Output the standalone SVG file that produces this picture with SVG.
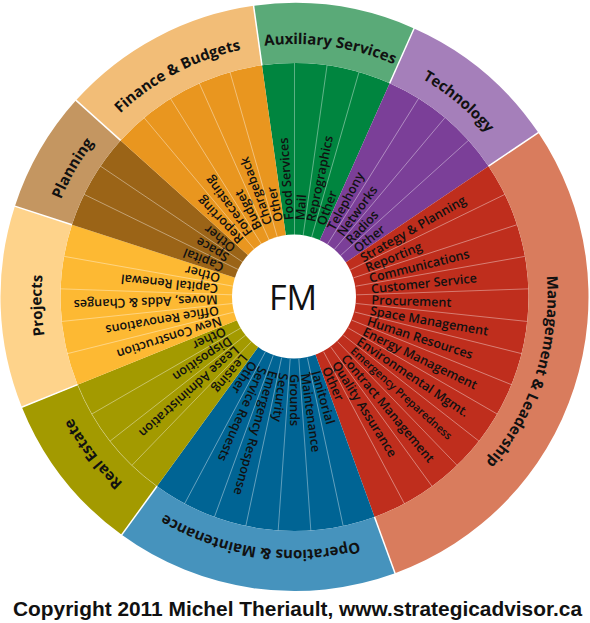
<svg xmlns="http://www.w3.org/2000/svg" width="590" height="623" viewBox="0 0 590 623">
<style>
.lbl{font-family:"Open Sans","Noto Sans",sans-serif;font-size:12.6px;font-weight:600;fill:#111}
.sm{font-size:10.8px}
.cat{font-family:"Open Sans","Noto Sans",sans-serif;font-size:15px;font-weight:bold;fill:#111}
.div{stroke:#fff;stroke-opacity:0.45;stroke-width:0.8}
.sep{stroke:#fff;stroke-width:1.5}
</style>
<defs>
<path id="ring" d="M294.5 44 A253 253 0 0 1 294.5 550 A253 253 0 0 1 294.5 44 A253 253 0 0 1 294.5 550 A253 253 0 0 1 294.5 44" fill="none"/>
</defs>
<rect width="590" height="623" fill="#fff"/>

<g id="auxiliary-services">
<path d="M294.5 297 L261.93 65.28 A234 234 0 0 1 389.68 83.23 Z" fill="#00853f"/>
<path d="M261.93 65.28 L253.58 5.86 A294 294 0 0 1 414.08 28.42 L389.68 83.23 A234 234 0 0 0 261.93 65.28 Z" fill="#5aaa78"/>
<text class="cat"><textPath href="#ring" startOffset="1624.98" text-anchor="middle">Auxiliary Services</textPath></text>
<g transform="translate(294.5 297)">
<text class="lbl" transform="rotate(-94)" x="77" y="4.5">Food Services</text>
<text class="lbl" transform="rotate(-86)" x="77" y="4.5">Mail</text>
<text class="lbl" transform="rotate(-78)" x="77" y="4.5">Reprographics</text>
<text class="lbl" transform="rotate(-70)" x="77" y="4.5">Other</text>
</g>
</g>

<g id="technology">
<path d="M294.5 297 L389.68 83.23 A234 234 0 0 1 488.50 166.15 Z" fill="#7b3f98"/>
<path d="M389.68 83.23 L414.08 28.42 A294 294 0 0 1 538.24 132.60 L488.50 166.15 A234 234 0 0 0 389.68 83.23 Z" fill="#a57fba"/>
<text class="cat"><textPath href="#ring" startOffset="176.63" text-anchor="middle">Technology</textPath></text>
<g transform="translate(294.5 297)">
<text class="lbl" transform="rotate(-62)" x="77" y="4.5">Telephony</text>
<text class="lbl" transform="rotate(-54)" x="77" y="4.5">Networks</text>
<text class="lbl" transform="rotate(-46)" x="77" y="4.5">Radios</text>
<text class="lbl" transform="rotate(-38)" x="77" y="4.5">Other</text>
</g>
</g>

<g id="management-leadership">
<path d="M294.5 297 L488.50 166.15 A234 234 0 0 1 374.53 516.89 Z" fill="#bf2e1d"/>
<path d="M488.50 166.15 L538.24 132.60 A294 294 0 0 1 395.05 573.27 L374.53 516.89 A234 234 0 0 0 488.50 166.15 Z" fill="#d97c5d"/>
<text class="cat"><textPath href="#ring" startOffset="476.90" text-anchor="middle">Management &amp; Leadership</textPath></text>
<g transform="translate(294.5 297)">
<text class="lbl" transform="rotate(-30)" x="77" y="4.5">Strategy &amp; Planning</text>
<text class="lbl" transform="rotate(-22)" x="77" y="4.5">Reporting</text>
<text class="lbl" transform="rotate(-14)" x="77" y="4.5">Communications</text>
<text class="lbl" transform="rotate(-6)" x="77" y="4.5">Customer Service</text>
<text class="lbl" transform="rotate(2)" x="77" y="4.5">Procurement</text>
<text class="lbl" transform="rotate(10)" x="77" y="4.5">Space Management</text>
<text class="lbl" transform="rotate(18)" x="77" y="4.5">Human Resources</text>
<text class="lbl" transform="rotate(26)" x="77" y="4.5">Energy Management</text>
<text class="lbl" transform="rotate(34)" x="77" y="4.5">Environmental Mgmt.</text>
<text class="lbl sm" transform="rotate(42)" x="78" y="3.9">Emergency Preparedness</text>
<text class="lbl" transform="rotate(50)" x="77" y="4.5">Contract Management</text>
<text class="lbl" transform="rotate(58)" x="77" y="4.5">Quality Assurance</text>
<text class="lbl" transform="rotate(66)" x="77" y="4.5">Other</text>
</g>
</g>

<g id="operations-maintenance">
<path d="M294.5 297 L374.53 516.89 A234 234 0 0 1 156.96 486.31 Z" fill="#006494"/>
<path d="M374.53 516.89 L395.05 573.27 A294 294 0 0 1 121.69 534.85 L156.96 486.31 A234 234 0 0 0 374.53 516.89 Z" fill="#4693bd"/>
<text class="cat"><textPath href="#ring" startOffset="830.15" text-anchor="middle">Operations &amp; Maintenance</textPath></text>
<g transform="translate(294.5 297)">
<text class="lbl" transform="rotate(74)" x="77" y="4.5">Janitorial</text>
<text class="lbl" transform="rotate(82)" x="77" y="4.5">Maintenance</text>
<text class="lbl" transform="rotate(90)" x="77" y="4.5">Grounds</text>
<text class="lbl" transform="rotate(98)" x="77" y="4.5">Security</text>
<text class="lbl" transform="rotate(106)" x="77" y="4.5">Emergency Response</text>
<text class="lbl" transform="rotate(114)" x="77" y="4.5">Service Requests</text>
<text class="lbl" transform="rotate(122)" x="77" y="4.5">Other</text>
</g>
</g>

<g id="real-estate">
<path d="M294.5 297 L156.96 486.31 A234 234 0 0 1 77.54 384.66 Z" fill="#a39a00"/>
<path d="M156.96 486.31 L121.69 534.85 A294 294 0 0 1 21.91 407.13 L77.54 384.66 A234 234 0 0 0 156.96 486.31 Z" fill="#a39a00"/>
<path d="M156.96 486.31 A234 234 0 0 1 77.54 384.66" fill="none" stroke="#fff" stroke-opacity="0.35" stroke-width="0.8"/>
<text class="cat"><textPath href="#ring" startOffset="1024.44" text-anchor="middle">Real Estate</textPath></text>
<g transform="translate(294.5 297)">
<text class="lbl" transform="rotate(130)" x="77" y="4.5">Leasing</text>
<text class="lbl" transform="rotate(138)" x="77" y="4.5">Lease Administration</text>
<text class="lbl" transform="rotate(146)" x="77" y="4.5">Disposition</text>
<text class="lbl" transform="rotate(154)" x="77" y="4.5">Other</text>
</g>
</g>

<g id="projects">
<path d="M294.5 297 L77.54 384.66 A234 234 0 0 1 71.95 224.69 Z" fill="#fdb933"/>
<path d="M77.54 384.66 L21.91 407.13 A294 294 0 0 1 14.89 206.15 L71.95 224.69 A234 234 0 0 0 77.54 384.66 Z" fill="#fed38b"/>
<text class="cat"><textPath href="#ring" startOffset="1183.41" text-anchor="middle">Projects</textPath></text>
<g transform="translate(294.5 297)">
<text class="lbl" transform="rotate(162)" x="77" y="4.5">New Construction</text>
<text class="lbl" transform="rotate(170)" x="77" y="4.5">Office Renovations</text>
<text class="lbl" transform="rotate(178)" x="77" y="4.5">Moves, Adds &amp; Changes</text>
<text class="lbl" transform="rotate(186)" x="77" y="4.5">Capital Renewal</text>
<text class="lbl" transform="rotate(194)" x="77" y="4.5">Other</text>
</g>
</g>

<g id="planning">
<path d="M294.5 297 L71.95 224.69 A234 234 0 0 1 120.60 140.42 Z" fill="#9b6417"/>
<path d="M71.95 224.69 L14.89 206.15 A294 294 0 0 1 76.02 100.28 L120.60 140.42 A234 234 0 0 0 71.95 224.69 Z" fill="#c49661"/>
<text class="cat"><textPath href="#ring" startOffset="1324.71" text-anchor="middle">Planning</textPath></text>
<g transform="translate(294.5 297)">
<text class="lbl" transform="rotate(202)" x="77" y="4.5">Capital</text>
<text class="lbl" transform="rotate(210)" x="77" y="4.5">Space</text>
<text class="lbl" transform="rotate(218)" x="77" y="4.5">Other</text>
</g>
</g>

<g id="finance-budgets">
<path d="M294.5 297 L120.60 140.42 A234 234 0 0 1 261.93 65.28 Z" fill="#e9961f"/>
<path d="M120.60 140.42 L76.02 100.28 A294 294 0 0 1 253.58 5.86 L261.93 65.28 A234 234 0 0 0 120.60 140.42 Z" fill="#f2bd77"/>
<text class="cat"><textPath href="#ring" startOffset="1466.01" text-anchor="middle">Finance &amp; Budgets</textPath></text>
<g transform="translate(294.5 297)">
<text class="lbl" transform="rotate(226)" x="77" y="4.5">Reporting</text>
<text class="lbl" transform="rotate(234)" x="77" y="4.5">Forecasting</text>
<text class="lbl" transform="rotate(242)" x="77" y="4.5">Budget</text>
<text class="lbl" transform="rotate(250)" x="77" y="4.5">Chargeback</text>
<text class="lbl" transform="rotate(258)" x="77" y="4.5">Other</text>
</g>
</g>

<g id="dividers" transform="translate(294.5 297)">
<g class="div">
<line x1="0" y1="-62" x2="0" y2="-234" transform="rotate(0)"/>
<line x1="0" y1="-62" x2="0" y2="-234" transform="rotate(8)"/>
<line x1="0" y1="-62" x2="0" y2="-234" transform="rotate(16)"/>
<line x1="0" y1="-62" x2="0" y2="-234" transform="rotate(32)"/>
<line x1="0" y1="-62" x2="0" y2="-234" transform="rotate(40)"/>
<line x1="0" y1="-62" x2="0" y2="-234" transform="rotate(48)"/>
<line x1="0" y1="-62" x2="0" y2="-234" transform="rotate(64)"/>
<line x1="0" y1="-62" x2="0" y2="-234" transform="rotate(72)"/>
<line x1="0" y1="-62" x2="0" y2="-234" transform="rotate(80)"/>
<line x1="0" y1="-62" x2="0" y2="-234" transform="rotate(88)"/>
<line x1="0" y1="-62" x2="0" y2="-234" transform="rotate(96)"/>
<line x1="0" y1="-62" x2="0" y2="-234" transform="rotate(104)"/>
<line x1="0" y1="-62" x2="0" y2="-234" transform="rotate(112)"/>
<line x1="0" y1="-62" x2="0" y2="-234" transform="rotate(120)"/>
<line x1="0" y1="-62" x2="0" y2="-234" transform="rotate(128)"/>
<line x1="0" y1="-62" x2="0" y2="-234" transform="rotate(136)"/>
<line x1="0" y1="-62" x2="0" y2="-234" transform="rotate(144)"/>
<line x1="0" y1="-62" x2="0" y2="-234" transform="rotate(152)"/>
<line x1="0" y1="-62" x2="0" y2="-234" transform="rotate(168)"/>
<line x1="0" y1="-62" x2="0" y2="-234" transform="rotate(176)"/>
<line x1="0" y1="-62" x2="0" y2="-234" transform="rotate(184)"/>
<line x1="0" y1="-62" x2="0" y2="-234" transform="rotate(192)"/>
<line x1="0" y1="-62" x2="0" y2="-234" transform="rotate(200)"/>
<line x1="0" y1="-62" x2="0" y2="-234" transform="rotate(208)"/>
<line x1="0" y1="-62" x2="0" y2="-234" transform="rotate(224)"/>
<line x1="0" y1="-62" x2="0" y2="-234" transform="rotate(232)"/>
<line x1="0" y1="-62" x2="0" y2="-234" transform="rotate(240)"/>
<line x1="0" y1="-62" x2="0" y2="-234" transform="rotate(256)"/>
<line x1="0" y1="-62" x2="0" y2="-234" transform="rotate(264)"/>
<line x1="0" y1="-62" x2="0" y2="-234" transform="rotate(272)"/>
<line x1="0" y1="-62" x2="0" y2="-234" transform="rotate(280)"/>
<line x1="0" y1="-62" x2="0" y2="-234" transform="rotate(296)"/>
<line x1="0" y1="-62" x2="0" y2="-234" transform="rotate(304)"/>
<line x1="0" y1="-62" x2="0" y2="-234" transform="rotate(320)"/>
<line x1="0" y1="-62" x2="0" y2="-234" transform="rotate(328)"/>
<line x1="0" y1="-62" x2="0" y2="-234" transform="rotate(336)"/>
<line x1="0" y1="-62" x2="0" y2="-234" transform="rotate(344)"/>
</g>
<g class="sep">
<line x1="0" y1="-234" x2="0" y2="-295" transform="rotate(-8)"/>
<line x1="0" y1="-234" x2="0" y2="-295" transform="rotate(24)"/>
<line x1="0" y1="-234" x2="0" y2="-295" transform="rotate(56)"/>
<line x1="0" y1="-234" x2="0" y2="-295" transform="rotate(160)"/>
<line x1="0" y1="-234" x2="0" y2="-295" transform="rotate(216)"/>
<line x1="0" y1="-234" x2="0" y2="-295" transform="rotate(248)"/>
<line x1="0" y1="-234" x2="0" y2="-295" transform="rotate(288)"/>
<line x1="0" y1="-234" x2="0" y2="-295" transform="rotate(312)"/>
</g>
</g>

<g id="fm">
<circle cx="294" cy="296.5" r="62" fill="#fff"/>
<text x="293" y="309.5" text-anchor="middle" font-family="Open Sans, Noto Sans, sans-serif" font-size="34" fill="#111">FM</text>
</g>

<text x="297.5" y="615.5" text-anchor="middle" font-family="Liberation Sans, Arial, sans-serif" font-size="20.5" font-weight="bold" fill="#111" textLength="569" lengthAdjust="spacingAndGlyphs">Copyright 2011 Michel Theriault, www.strategicadvisor.ca</text>
</svg>
